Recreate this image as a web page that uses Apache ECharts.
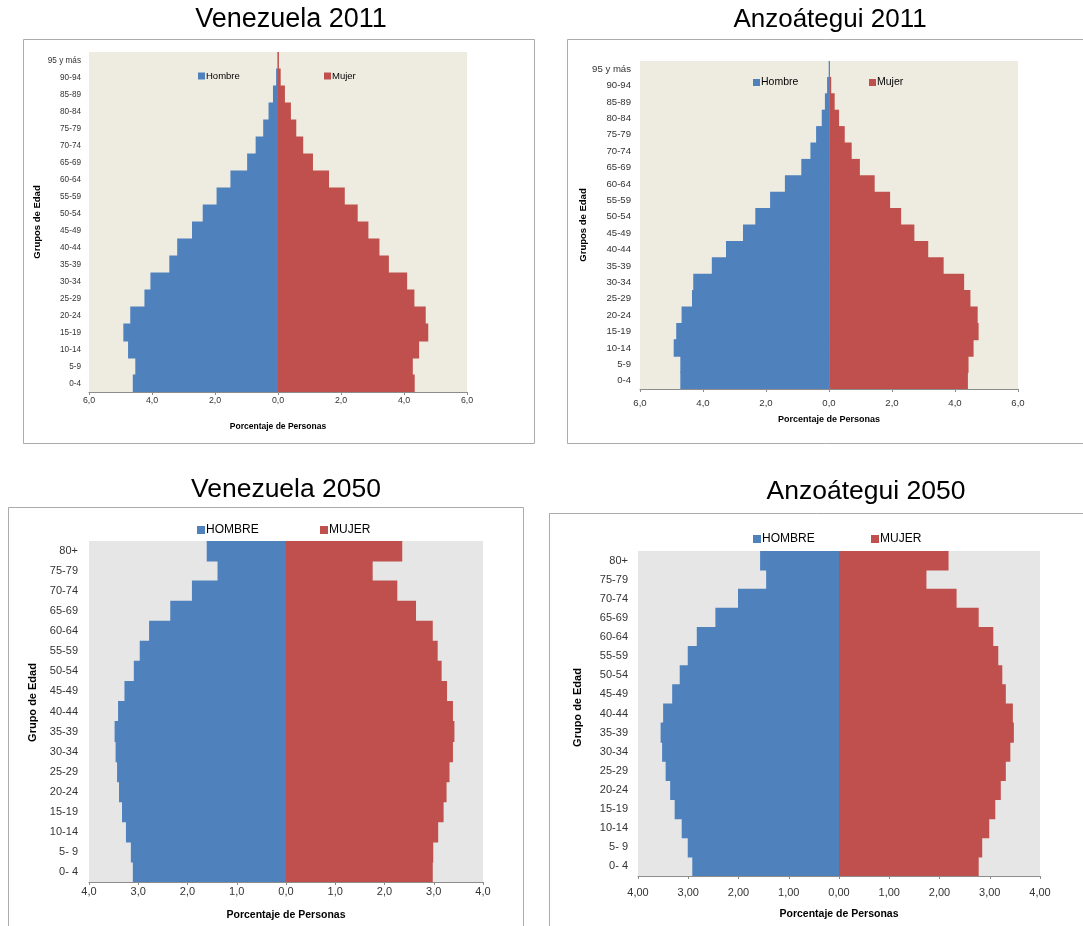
<!DOCTYPE html>
<html>
<head>
<meta charset="utf-8">
<script src="https://cdn.jsdelivr.net/npm/echarts@6/dist/echarts.min.js"></script>
<style>
html,body{margin:0;padding:0;background:#fff;}
#chart{width:1083px;height:926px;}
</style>
</head>
<body>
<div id="chart"></div>
<script>
// ---- Data ----
const cats2011 = ['0-4','5-9','10-14','15-19','20-24','25-29','30-34','35-39','40-44','45-49','50-54','55-59','60-64','65-69','70-74','75-79','80-84','85-89','90-94','95 y más'];
const ven2011Hombre = [4.61,4.53,4.76,4.91,4.69,4.24,4.05,3.45,3.20,2.73,2.39,1.95,1.51,0.98,0.71,0.47,0.30,0.16,0.06,0.02];
const ven2011Mujer  = [4.34,4.28,4.48,4.77,4.69,4.33,4.10,3.52,3.22,2.87,2.53,2.12,1.62,1.11,0.80,0.58,0.41,0.22,0.085,0.03];
const anz2011Hombre = [4.72,4.72,4.93,4.85,4.68,4.35,4.31,3.72,3.27,2.73,2.34,1.87,1.40,0.88,0.59,0.41,0.23,0.13,0.06,0.01];
const anz2011Mujer  = [4.41,4.43,4.59,4.75,4.72,4.49,4.29,3.64,3.15,2.71,2.29,1.94,1.45,0.98,0.72,0.50,0.32,0.18,0.07,0.02];

const cats2050 = ['0- 4','5- 9','10-14','15-19','20-24','25-29','30-34','35-39','40-44','45-49','50-54','55-59','60-64','65-69','70-74','75-79','80+'];
const ven2050Hombre = [3.11,3.15,3.25,3.33,3.39,3.43,3.46,3.48,3.41,3.28,3.09,2.97,2.78,2.35,1.91,1.39,1.61];
const ven2050Mujer  = [2.98,2.99,3.09,3.20,3.26,3.32,3.39,3.42,3.39,3.27,3.16,3.08,2.98,2.64,2.26,1.76,2.36];
const anz2050Hombre = [2.92,3.01,3.13,3.27,3.36,3.45,3.52,3.55,3.50,3.32,3.17,3.01,2.83,2.46,2.01,1.45,1.57];
const anz2050Mujer  = [2.78,2.85,2.99,3.11,3.22,3.32,3.41,3.48,3.46,3.32,3.25,3.17,3.07,2.78,2.34,1.74,2.18];

const titles = ['Venezuela 2011','Anzoátegui 2011','Venezuela 2050','Anzoátegui 2050'];
const names2011 = ['Hombre','Mujer'];
const names2050 = ['HOMBRE','MUJER'];
const yName2011 = 'Grupos de Edad';
const yName2050 = 'Grupo de Edad';
const xName = 'Porcentaje de Personas';

// ---- Styling / layout ----
const FONT = 'Liberation Sans, Arial, sans-serif';
const BLUE = '#4F81BD', RED = '#C0504D';

const panels = [
  {title:titles[0], tx:291, ty:20, tfs:27, box:[23.5,39.5,511,404],
   grid:{left:89, top:52, width:378, height:340}, bg:'#EEECE1',
   cats:cats2011, h:ven2011Hombre, m:ven2011Mujer, names:names2011, yName:yName2011,
   max:6, interval:2, dec:1, yfs:8.2, xfs:8.8, nameFs:8.5, yNameFs:9.5, yNameGap:47, xNameGap:30,
   xLabMargin:4, yLabMargin:8, legFs:9.5, legSq:7, yNameShift:0,
   leg:[[198,77],[324,77]], zeroLine:null},
  {title:titles[1], tx:830, ty:20, tfs:26, box:[567.5,39.5,560,404],
   grid:{left:640, top:61, width:378, height:328}, bg:'#EEECE1',
   cats:cats2011, h:anz2011Hombre, m:anz2011Mujer, names:names2011, yName:yName2011,
   max:6, interval:2, dec:1, yfs:9.6, xfs:9.6, nameFs:9, yNameFs:9.5, yNameGap:51, xNameGap:26,
   xLabMargin:9, yLabMargin:9, legFs:10.5, legSq:7, yNameShift:0,
   leg:[[753,83],[869,83]], zeroLine:'#7f7f7f'},
  {title:titles[2], tx:286, ty:490, tfs:26.5, box:[8.5,507.5,515,440],
   grid:{left:89, top:541, width:394, height:341}, bg:'#E6E6E6',
   cats:cats2050, h:ven2050Hombre, m:ven2050Mujer, names:names2050, yName:yName2050,
   max:4, interval:1, dec:1, yfs:11, xfs:11, nameFs:10.5, yNameFs:11, yNameGap:51, xNameGap:28,
   xLabMargin:4, yLabMargin:11, legFs:12, legSq:8, yNameShift:18,
   leg:[[197,531],[320,531]], zeroLine:null},
  {title:titles[3], tx:866, ty:492, tfs:26.5, box:[549.5,513.5,560,440],
   grid:{left:638, top:551, width:402, height:325}, bg:'#E6E6E6',
   cats:cats2050, h:anz2050Hombre, m:anz2050Mujer, names:names2050, yName:yName2050,
   max:4, interval:1, dec:2, yfs:11, xfs:11, nameFs:10.5, yNameFs:11, yNameGap:55, xNameGap:33,
   xLabMargin:11, yLabMargin:10, legFs:12, legSq:8, yNameShift:12,
   leg:[[753,540],[871,540]], zeroLine:null}
];

const grid = [], xAxis = [], yAxis = [], series = [], legend = [], graphic = [];

panels.forEach((p, i) => {
  graphic.push({type:'rect', z:-10, silent:true,
    shape:{x:p.box[0], y:p.box[1], width:p.box[2], height:p.box[3]},
    style:{fill:'#fff', stroke:'#ababab', lineWidth:1}});
  graphic.push({type:'text', silent:true, x:p.tx, y:p.ty,
    style:{text:p.title, font:p.tfs + 'px ' + FONT, fill:'#000', textAlign:'center', textVerticalAlign:'middle'}});

  grid.push(Object.assign({show:true, backgroundColor:p.bg, borderWidth:0, containLabel:false}, p.grid));

  xAxis.push({type:'value', gridIndex:i, min:-p.max, max:p.max, interval:p.interval,
    name:xName, nameLocation:'middle', nameGap:p.xNameGap,
    nameTextStyle:{fontFamily:FONT, fontWeight:'bold', fontSize:p.nameFs, color:'#000'},
    axisLine:{show:true, onZero:false, lineStyle:{color:'#8c8c8c', width:1}},
    axisTick:{show:true, length:3, lineStyle:{color:'#8c8c8c'}},
    splitLine:{show:false},
    axisLabel:{fontFamily:FONT, fontSize:p.xfs, color:'#333', margin:p.xLabMargin,
      formatter: v => Math.abs(v).toFixed(p.dec).replace('.', ',')}
  });

  yAxis.push({type:'category', gridIndex:i, data:p.cats,
    name:p.yName, nameLocation:'middle', nameRotate:90, nameGap:p.yNameGap,
    nameTextStyle:{fontFamily:FONT, fontWeight:'bold', fontSize:p.yNameFs, color:'#000',
      padding:[0,0,0,p.yNameShift]},
    axisLine:{show:false}, axisTick:{show:false}, splitLine:{show:false},
    axisLabel:{fontFamily:FONT, fontSize:p.yfs, color:'#333', margin:p.yLabMargin, interval:0}
  });

  // full-band bars, overlapping by ~1px so no seams appear between rows
  const bw = p.grid.height / p.cats.length + 1;
  const hs = {type:'bar', name:p.names[0], xAxisIndex:i, yAxisIndex:i, stack:'s'+i,
    barWidth:bw, itemStyle:{color:BLUE}, data:p.h.map(v => -v), silent:true};
  if (p.zeroLine) {
    hs.markLine = {silent:true, symbol:'none', label:{show:false},
      lineStyle:{color:p.zeroLine, width:1, type:'solid'}, data:[{xAxis:0}]};
  }
  series.push(hs);
  series.push({type:'bar', name:p.names[1], xAxisIndex:i, yAxisIndex:i, stack:'s'+i,
    barWidth:bw, itemStyle:{color:RED}, data:p.m.slice(), silent:true});

  p.leg.forEach((pos, k) => {
    legend.push({data:[p.names[k]], left:pos[0], top:pos[1] - Math.round(p.legFs*0.6), padding:0,
      icon:'rect', itemWidth:p.legSq, itemHeight:p.legSq, selectedMode:false,
      textStyle:{fontFamily:FONT, fontSize:p.legFs, color:'#000', padding:[0,0,0,-4]}});
  });
});

const chart = echarts.init(document.getElementById('chart'), null, {renderer:'canvas'});
chart.setOption({animation:false, backgroundColor:'#fff', grid, xAxis, yAxis, series, legend, graphic});
</script>
</body>
</html>
